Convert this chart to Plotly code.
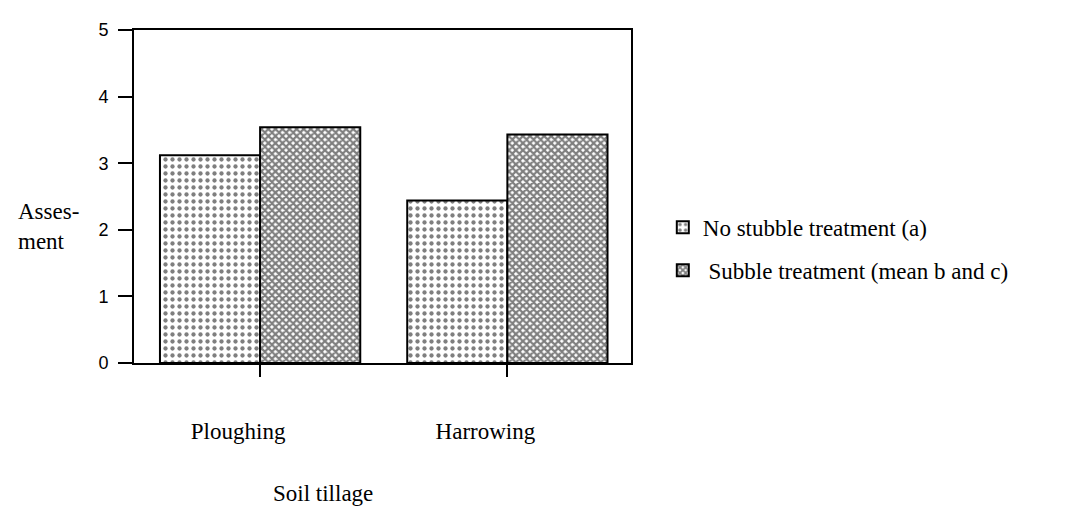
import plotly.graph_objects as go

categories = ["Ploughing", "Harrowing"]
no_stubble = [3.12, 2.44]
stubble = [3.54, 3.43]
series_names = ["No stubble treatment (a)", " Subble treatment (mean b and c)"]
y_ticks = [0, 1, 2, 3, 4, 5]

# page has an 8px body margin, so the figure is drawn 8px right/down
OFF = 8
W, H = 1076 - OFF, 506 - OFF
L, T = 134 - OFF, 27 - OFF
PW, PH = 497, 336
R, B = W - L - PW, H - T - PH
serif = "Liberation Serif, Times New Roman, serif"


def px_x(p):
    return (p - OFF - L) / PW


def px_y(p):
    return (T + PH - (p - OFF)) / PH


fig = go.Figure()
fig.add_trace(go.Bar(
    x=categories, y=no_stubble, name=series_names[0], legendgroup="a",
    marker=dict(color="white", line=dict(color="black", width=2),
                pattern=dict(shape=".", size=7, solidity=0.3, fgcolor="black", bgcolor="white")),
))
fig.add_trace(go.Bar(
    x=categories, y=stubble, name=series_names[1], legendgroup="b",
    marker=dict(color="white", line=dict(color="black", width=2),
                pattern=dict(shape="x", size=5, solidity=0.7, fgcolor="black", bgcolor="white")),
))

fig.update_layout(
    width=W, height=H,
    margin=dict(l=L, r=R, t=T, b=B, pad=0),
    paper_bgcolor="white", plot_bgcolor="white",
    barmode="group", bargap=0.19, bargroupgap=0,
    font=dict(family=serif, size=23, color="black"),
    showlegend=True,
    legend=dict(x=1.064, y=0.472, xanchor="left", yanchor="top",
                font=dict(family=serif, size=23), tracegroupgap=10,
                bgcolor="rgba(0,0,0,0)", itemwidth=30),
    xaxis=dict(range=[-0.51, 1.5], showline=True, linecolor="black", linewidth=2,
               mirror=True, ticks="outside", ticklen=12, tickwidth=2, tickcolor="black",
               showgrid=False, zeroline=False,
               tickfont=dict(family=serif, size=23),
               ticklabelshift=-22, ticklabelstandoff=34),
    yaxis=dict(range=[0, 5], tickvals=y_ticks, showline=True, linecolor="black", linewidth=2,
               mirror=True, ticks="outside", ticklen=14, tickwidth=2, tickcolor="black",
               showgrid=False, zeroline=False,
               tickfont=dict(family="Liberation Sans, Arial, sans-serif", size=18),
               ticklabelstandoff=6),
)

fig.add_annotation(text="Asses-<br>ment", xref="paper", yref="paper",
                   x=px_x(16), y=px_y(225),
                   xanchor="left", yanchor="middle", align="left", showarrow=False,
                   font=dict(family=serif, size=23))
fig.add_annotation(text="Soil tillage", xref="paper", yref="paper",
                   x=px_x(323), y=px_y(495),
                   xanchor="center", yanchor="middle", showarrow=False,
                   font=dict(family=serif, size=23))

fig.write_html("out.html")
